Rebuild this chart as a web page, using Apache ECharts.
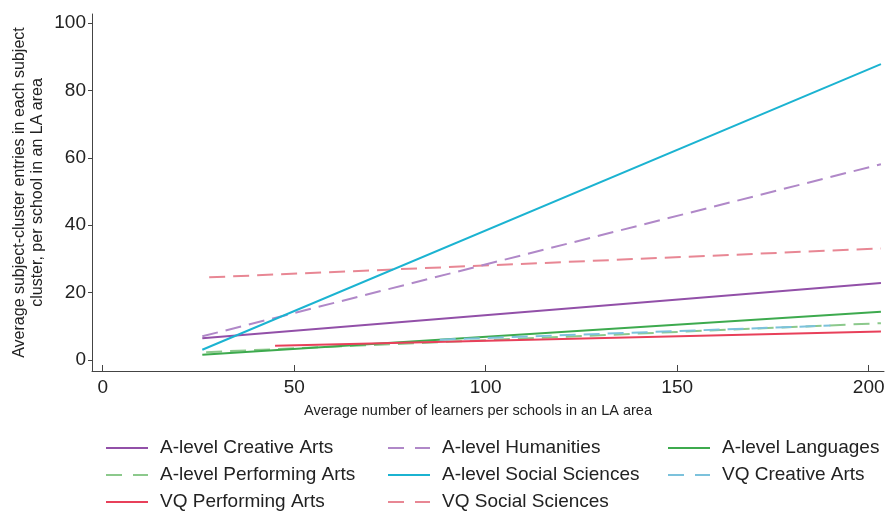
<!DOCTYPE html>
<html>
<head>
<meta charset="utf-8">
<script src="https://cdn.jsdelivr.net/npm/echarts@6/dist/echarts.min.js"></script>
<style>
  html, body { margin: 0; padding: 0; background: #fff; }
  #chart { width: 892px; height: 512px; }
</style>
</head>
<body>
<div id="chart"></div>
<script>
// Fitted lines: [learners per school, entries per school] at each end
const alevelCreativeArts     = [[26, 6.4], [203.2, 22.8]];
const alevelHumanities       = [[26, 7.0], [203.2, 58.1]];
const alevelLanguages        = [[26, 1.5], [203.2, 14.3]];
const alevelPerformingArts   = [[27, 2.3], [203.2, 10.9]];
const alevelSocialSciences   = [[26, 3.0], [203.2, 87.8]];
const vqCreativeArts         = [[88, 6.0], [190, 10.2]];
const vqPerformingArts       = [[45, 4.2], [203.2, 8.4]];
const vqSocialSciences       = [[27.8, 24.5], [203.2, 33.1]];

const xTicks = [0, 50, 100, 150, 200];
const yTicks = [0, 20, 40, 60, 80, 100];

const legendCol1 = ['A-level Creative Arts', 'A-level Performing Arts', 'VQ Performing Arts'];
const legendCol2 = ['A-level Humanities', 'A-level Social Sciences', 'VQ Social Sciences'];
const legendCol3 = ['A-level Languages', 'VQ Creative Arts'];

const seriesDefs = [
  { name: 'VQ Social Sciences', data: vqSocialSciences, color: '#e88794', dashed: true },
  { name: 'A-level Humanities', data: alevelHumanities, color: '#b088c8', dashed: true },
  { name: 'A-level Creative Arts', data: alevelCreativeArts, color: '#9250a8', dashed: false },
  { name: 'A-level Performing Arts', data: alevelPerformingArts, color: '#8cc98c', dashed: true },
  { name: 'A-level Languages', data: alevelLanguages, color: '#3daa4e', dashed: false },
  { name: 'VQ Performing Arts', data: vqPerformingArts, color: '#e8405a', dashed: false },
  { name: 'VQ Creative Arts', data: vqCreativeArts, color: '#7cc2dc', dashed: true },
  { name: 'A-level Social Sciences', data: alevelSocialSciences, color: '#1bb3d1', dashed: false }
];

const font = 'Liberation Sans, Arial, sans-serif';
const axisColor = '#444';

// Legend keys: a plain stroke for solid lines, two short strokes for dashed ones
const solidKey = 'path://M0,0h42v2h-42z';
const dashedKey = 'path://M0,0h16v2h-16zM27,0h15v2h-15z';

function legendAt(left, names) {
  return {
    orient: 'vertical',
    left: left,
    top: 438,
    height: 74,
    data: names.map(n => {
      const def = seriesDefs.find(s => s.name === n);
      return { name: n, icon: def.dashed ? dashedKey : solidKey, itemStyle: { color: def.color, borderWidth: 0 } };
    }),
    itemWidth: 42,
    itemHeight: 2,
    itemGap: 7,
    padding: 0,
    textStyle: { fontFamily: font, fontSize: 19, color: '#222', lineHeight: 20, padding: [0, 0, 0, 7] }
  };
}

const chart = echarts.init(document.getElementById('chart'), null, { renderer: 'canvas' });
chart.setOption({
  animation: false,
  backgroundColor: '#fff',
  grid: { left: 92, right: 8, top: 14, bottom: 141 },
  legend: [legendAt(106, legendCol1), legendAt(388, legendCol2), legendAt(668, legendCol3)],
  xAxis: {
    type: 'value',
    min: -2.8,
    max: 204,
    name: 'Average number of learners per schools in an LA area',
    nameLocation: 'middle',
    nameGap: 32,
    nameMoveOverlap: false,
    nameTextStyle: { fontFamily: font, fontSize: 14.5, color: '#222', padding: [0, 20, 0, 0] },
    splitLine: { show: false },
    axisLine: { show: true, onZero: false, lineStyle: { color: axisColor, width: 1 } },
    axisTick: { show: true, inside: true, length: 6, customValues: xTicks, lineStyle: { color: axisColor } },
    axisLabel: { customValues: xTicks, fontFamily: font, fontSize: 19, color: '#222', margin: 7 }
  },
  yAxis: {
    type: 'value',
    min: -3.3,
    max: 102.7,
    name: 'Average subject-cluster entries in each subject\ncluster, per school in an LA area',
    nameLocation: 'middle',
    nameRotate: 90,
    nameGap: 45,
    nameMoveOverlap: false,
    nameTextStyle: { fontFamily: font, fontSize: 16, color: '#222', lineHeight: 18 },
    splitLine: { show: false },
    axisLine: { show: true, onZero: false, lineStyle: { color: axisColor, width: 1 } },
    axisTick: { show: true, length: 4, customValues: yTicks, lineStyle: { color: axisColor } },
    axisLabel: { customValues: yTicks, fontFamily: font, fontSize: 19, color: '#222', margin: 6 }
  },
  series: seriesDefs.map(s => ({
    name: s.name,
    type: 'line',
    data: s.data,
    symbol: 'none',
    showSymbol: false,
    color: s.color,
    lineStyle: { color: s.color, width: 2, type: s.dashed ? [16, 8] : 'solid' }
  }))
});
</script>
</body>
</html>
